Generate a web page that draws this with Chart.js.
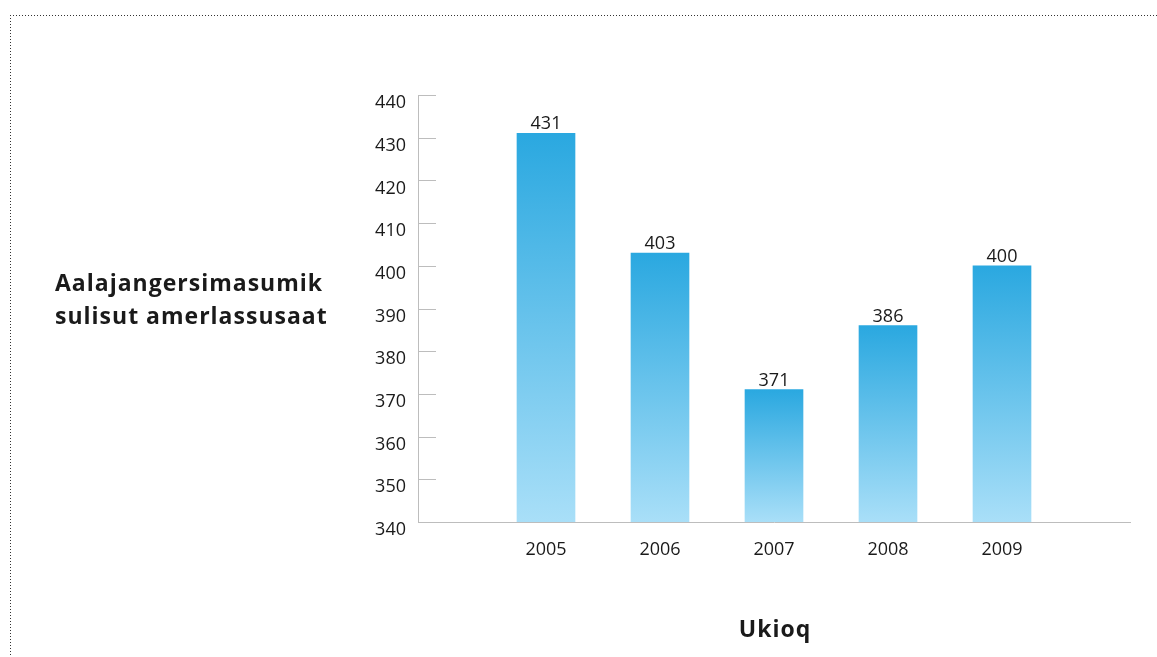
<!DOCTYPE html>
<html>
<head>
<meta charset="utf-8">
<script src="https://cdn.jsdelivr.net/npm/chart.js@4/dist/chart.umd.min.js"></script>
<style>
  html, body { margin: 0; padding: 0; background: #fff; }
  #c { display: block; }
</style>
</head>
<body>
<canvas id="c" width="1157" height="657"></canvas>
<script>
// ---- Data ----
const categories = ['2005', '2006', '2007', '2008', '2009'];
const values = [431, 403, 371, 386, 400];
const yTickMin = 340;
const yTickMax = 440;
const yTickStep = 10;
const yTitleLines = ['Aalajangersimasumik', 'sulisut amerlassusaat'];
const xTitle = 'Ukioq';

const FONT = '"Open Sans", "Noto Sans", sans-serif';
const TEXT = '#1a1a1a';
const AXIS = '#bdbdbd';

// extra space on each side of the first/last bar, in category units
const sidePad = 128 / 114;

const decorPlugin = {
  id: 'decor',
  beforeDraw(chart) {
    const ctx = chart.ctx;
    ctx.save();
    ctx.strokeStyle = '#333';
    ctx.lineWidth = 1;
    ctx.setLineDash([1, 2]);
    ctx.beginPath();
    ctx.moveTo(10, 15.5);
    ctx.lineTo(chart.width, 15.5);
    ctx.moveTo(10.5, 15);
    ctx.lineTo(10.5, chart.height);
    ctx.stroke();
    ctx.restore();
  },
  afterDraw(chart) {
    const ctx = chart.ctx;
    const area = chart.chartArea;
    const ys = chart.scales.y;
    ctx.save();
    // short inward tick marks on the y axis
    ctx.strokeStyle = AXIS;
    ctx.lineWidth = 1;
    ys.ticks.forEach(t => {
      const py = Math.round(ys.getPixelForValue(t.value)) + 0.5;
      ctx.beginPath();
      ctx.moveTo(area.left, py);
      ctx.lineTo(area.left + 18, py);
      ctx.stroke();
    });
    // value labels
    ctx.fillStyle = TEXT;
    ctx.font = '18px ' + FONT;
    ctx.textAlign = 'center';
    ctx.textBaseline = 'alphabetic';
    const meta = chart.getDatasetMeta(0);
    meta.data.forEach((el, i) => {
      ctx.fillText(String(values[i]), el.x, el.y - 4);
    });
    // axis titles
    ctx.font = 'bold 23px ' + FONT;
    if ('letterSpacing' in ctx) ctx.letterSpacing = '1px';
    ctx.textAlign = 'left';
    ctx.fillText(yTitleLines[0], 55, 291);
    ctx.fillText(yTitleLines[1], 55, 324);
    ctx.textAlign = 'center';
    ctx.fillText(xTitle, (area.left + area.right) / 2 + 1, 637);
    ctx.restore();
  }
};

function barGradient(context) {
  const chart = context.chart;
  const area = chart.chartArea;
  if (!area || context.type !== 'data') return '#2aa8e0';
  const ys = chart.scales.y;
  const top = ys.getPixelForValue(values[context.dataIndex]);
  const bottom = ys.getPixelForValue(yTickMin);
  const g = chart.ctx.createLinearGradient(0, top, 0, bottom);
  g.addColorStop(0, '#2aa8e0');
  g.addColorStop(1, '#a9dff8');
  return g;
}

new Chart(document.getElementById('c'), {
  type: 'bar',
  data: {
    datasets: [{
      data: categories.map((c, i) => ({ x: i, y: values[i] })),
      backgroundColor: barGradient,
      borderWidth: 0,
      barThickness: 58
    }]
  },
  options: {
    responsive: false,
    animation: false,
    devicePixelRatio: 1,
    layout: { padding: { left: 0, top: 95, right: 27, bottom: 0 } },
    plugins: { legend: { display: false }, tooltip: { enabled: false } },
    scales: {
      x: {
        type: 'linear',
        offset: false,
        min: -sidePad,
        max: categories.length - 1 + sidePad,
        afterBuildTicks(scale) {
          scale.ticks = categories.map((c, i) => ({ value: i }));
        },
        afterFit(scale) { scale.height = 135; },
        grid: { display: false, drawTicks: false, offset: false },
        border: { display: true, color: AXIS, width: 1 },
        ticks: {
          autoSkip: false,
          maxRotation: 0,
          padding: 17,
          color: TEXT,
          font: { family: FONT, size: 18 },
          callback: (v) => categories[v] !== undefined ? categories[v] : ''
        }
      },
      y: {
        min: yTickMin,
        max: yTickMax,
        afterFit(scale) { scale.width = 418; },
        grid: { display: false, drawTicks: false },
        border: { display: true, color: AXIS, width: 1 },
        ticks: {
          stepSize: yTickStep,
          padding: 12,
          labelOffset: 8,
          color: TEXT,
          font: { family: FONT, size: 18 }
        }
      }
    }
  },
  plugins: [decorPlugin]
});
</script>
</body>
</html>
